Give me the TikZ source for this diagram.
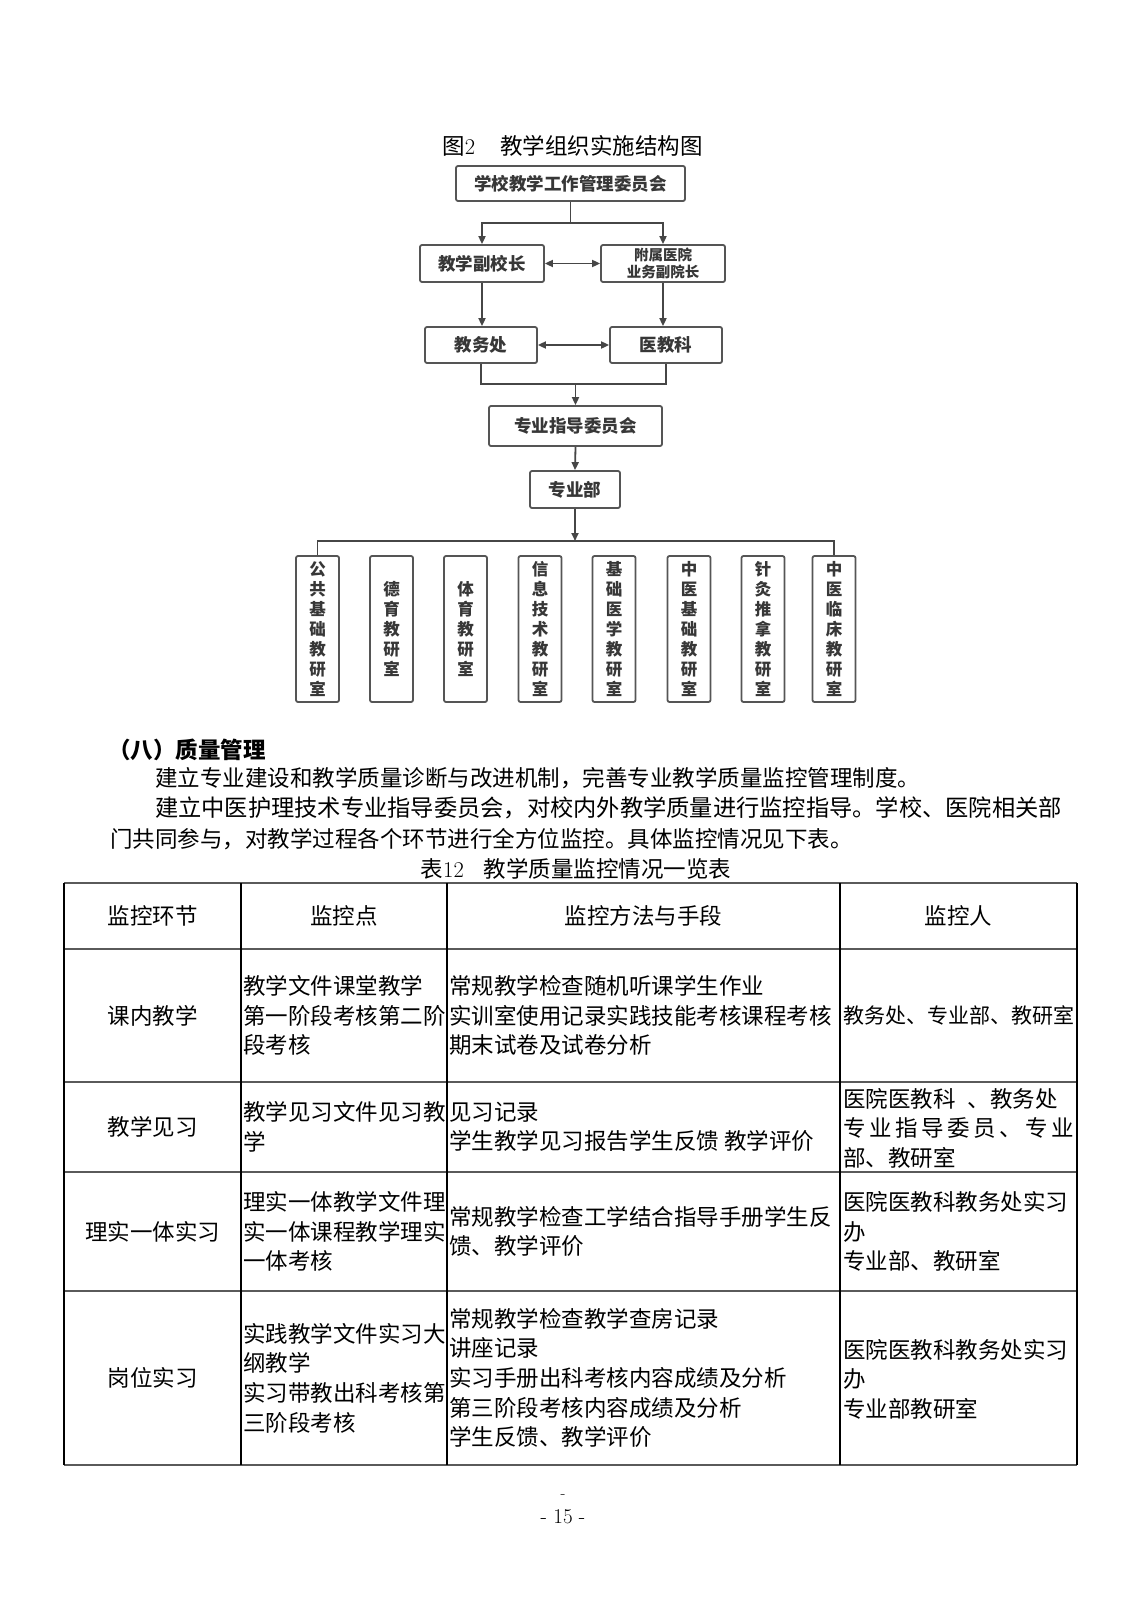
\documentclass[tikz,border=0pt]{standalone}
\usepackage{fontspec}
\newfontfamily\cjk{Noto Sans CJK SC}
\usetikzlibrary{arrows.meta}
\definecolor{boxgray}{RGB}{85,85,85}
\definecolor{linegray}{RGB}{70,70,70}
\definecolor{textgray}{RGB}{55,55,55}
\definecolor{rulegray}{RGB}{90,90,90}
\tikzset{
  box/.style={draw=boxgray, line width=1.8pt, rounded corners=2pt, fill=white, inner sep=0pt,
    text=textgray, align=center, font=\cjk\bfseries\fontsize{17.5}{20}\selectfont},
  vbox/.style={box, minimum width=43pt, minimum height=146pt, font=\cjk\bfseries\fontsize{16.5}{20}\selectfont},
  link/.style={draw=linegray, line width=1.8pt},
  arr/.style={link, -{Triangle[length=8pt,width=7pt]}},
  darr/.style={link, {Triangle[length=8pt,width=7pt]}-{Triangle[length=8pt,width=7pt]}},
  txt/.style={inner sep=0pt, font=\cjk\fontsize{22.5}{29.6}\selectfont},
  cell/.style={txt, anchor=west, align=left},
  ctr/.style={txt, anchor=center, align=center},
  hrule/.style={draw=rulegray, line width=1.9pt},
  vrule/.style={draw=black, line width=1.2pt}
}
\begin{document}
\begin{tikzpicture}[x=1pt,y=-1pt]
\useasboundingbox (0,0) rectangle (1131,1600);
\fill[white] (0,0) rectangle (1131,1600);

% ---------- figure title ----------
\node[txt] (ftitle) at (572.5,146) {图\rmfamily 2\hspace{25pt}\cjk 教学组织实施结构图};

% ---------- org chart ----------
\node[box, minimum width=229pt, minimum height=35pt] (top) at (570.5,183.5) {学校教学工作管理委员会};
\node[box, minimum width=124pt, minimum height=37pt] (vp) at (482,263.5) {教学副校长};
\node[box, minimum width=124pt, minimum height=37pt, font=\cjk\bfseries\fontsize{14.5}{17}\selectfont] (hp) at (663,263.5) {附属医院\\业务副院长};
\node[box, minimum width=112pt, minimum height=36pt] (jw) at (481,345) {教务处};
\node[box, minimum width=112pt, minimum height=36pt] (yj) at (666,345) {医教科};
\node[box, minimum width=173pt, minimum height=40pt] (zd) at (575.5,426) {专业指导委员会};
\node[box, minimum width=90pt, minimum height=37pt] (zyb) at (575,489.5) {专业部};

\node[vbox] (r1) at (317.5,629) {公\\共\\基\\础\\教\\研\\室};
\node[vbox] (r2) at (391.5,629) {德\\育\\教\\研\\室};
\node[vbox] (r3) at (465.5,629) {体\\育\\教\\研\\室};
\node[vbox] (r4) at (540,629) {信\\息\\技\\术\\教\\研\\室};
\node[vbox] (r5) at (614,629) {基\\础\\医\\学\\教\\研\\室};
\node[vbox] (r6) at (689,629) {中\\医\\基\\础\\教\\研\\室};
\node[vbox] (r7) at (763,629) {针\\灸\\推\\拿\\教\\研\\室};
\node[vbox] (r8) at (834,629) {中\\医\\临\\床\\教\\研\\室};

\coordinate (j1) at (570.5,223);
\coordinate (j2) at (575.5,384);
\coordinate (j3) at (575,541);

\draw[link] (top.south) -- (j1);
\draw[arr] (j1) -| (vp.north);
\draw[arr] (j1) -| (hp.north);
\draw[darr] (vp.east) -- (hp.west);
\draw[arr] (vp.south) -- (vp.south |- jw.north);
\draw[arr] (hp.south) -- (hp.south |- yj.north);
\draw[darr] (jw.east) -- (yj.west);
\draw[link] (jw.south) |- (j2) -| (yj.south);
\draw[arr] (j2) -- (zd.north);
\draw[arr] (zd.south) -- (zyb.north);
\draw[arr] (zyb.south) -- (j3);
\draw[link] (r1.north) |- (j3) -| (r8.north);

% ---------- section text ----------
\node[txt, anchor=west, font=\cjk\bfseries\fontsize{22.5}{29.6}\selectfont] (sec) at (108,750) {（八）质量管理};
\node[txt, anchor=west] (p1) at (155,778) {建立专业建设和教学质量诊断与改进机制，完善专业教学质量监控管理制度。};
\node[txt, anchor=west, font=\cjk\fontsize{23.25}{29.6}\selectfont] (p2) at (155,808) {建立中医护理技术专业指导委员会，对校内外教学质量进行监控指导。学校、医院相关部};
\node[txt, anchor=west] (p3) at (110,839) {门共同参与，对教学过程各个环节进行全方位监控。具体监控情况见下表。};
\node[txt] (tcap) at (576,869) {表\rmfamily 12\hspace{20pt}\cjk 教学质量监控情况一览表};

% ---------- table ----------
\foreach \yy in {883,949,1082,1172,1291,1465} \draw[hrule] (64,\yy) -- (1077,\yy);
\foreach \xx in {64,241,447,840,1077} \draw[vrule] (\xx,883) -- (\xx,1465);

% header
\node[ctr] (h1) at (152.5,916) {监控环节};
\node[ctr] (h2) at (344,916) {监控点};
\node[ctr] (h3) at (643.5,916) {监控方法与手段};
\node[ctr] (h4) at (958.5,916) {监控人};

% row 1
\node[ctr] (a1) at (152.5,1015.5) {课内教学};
\node[cell] (a2) at (243,1015.5) {教学文件课堂教学\\第一阶段考核第二阶\\段考核};
\node[cell] (a3) at (449,1015.5) {常规教学检查随机听课学生作业\\实训室使用记录实践技能考核课程考核\\期末试卷及试卷分析};
\node[cell, font=\cjk\fontsize{21}{29.6}\selectfont] (a4) at (843,1015.5) {教务处、专业部、教研室};

% row 2
\node[ctr] (b1) at (152.5,1127) {教学见习};
\node[cell] (b2) at (243,1127) {教学见习文件见习教\\学};
\node[cell] (b3) at (449,1127) {见习记录\\学生教学见习报告学生反馈 教学评价};
\node[cell] (b4) at (843,1128) {医院医教科\hspace{12pt}、教务处\\\makebox[231pt][l]{专\hfill 业\hfill 指\hfill 导\hfill 委\hfill 员\hfill 、\hfill 专\hfill 业}\\部、教研室};

% row 3
\node[ctr] (c1) at (152.5,1231.5) {理实一体实习};
\node[cell] (c2) at (243,1231.5) {理实一体教学文件理\\实一体课程教学理实\\一体考核};
\node[cell] (c3) at (449,1231.5) {常规教学检查工学结合指导手册学生反\\馈、教学评价};
\node[cell] (c4) at (843,1231.5) {医院医教科教务处实习\\办\\专业部、教研室};

% row 4
\node[ctr] (d1) at (152.5,1378) {岗位实习};
\node[cell] (d2) at (243,1378) {实践教学文件实习大\\纲教学\\实习带教出科考核第\\三阶段考核};
\node[cell] (d3) at (449,1378) {常规教学检查教学查房记录\\讲座记录\\实习手册出科考核内容成绩及分析\\第三阶段考核内容成绩及分析\\学生反馈、教学评价};
\node[cell] (d4) at (843,1379) {医院医教科教务处实习\\办\\专业部教研室};

% ---------- page number ----------
\node[inner sep=0pt, font=\fontsize{16}{16}\selectfont] (pdot) at (563,1497) {-};
\node[inner sep=0pt, font=\fontsize{21}{21}\selectfont] (pnum) at (563,1517) {- 15 -};
\end{tikzpicture}
\end{document}
